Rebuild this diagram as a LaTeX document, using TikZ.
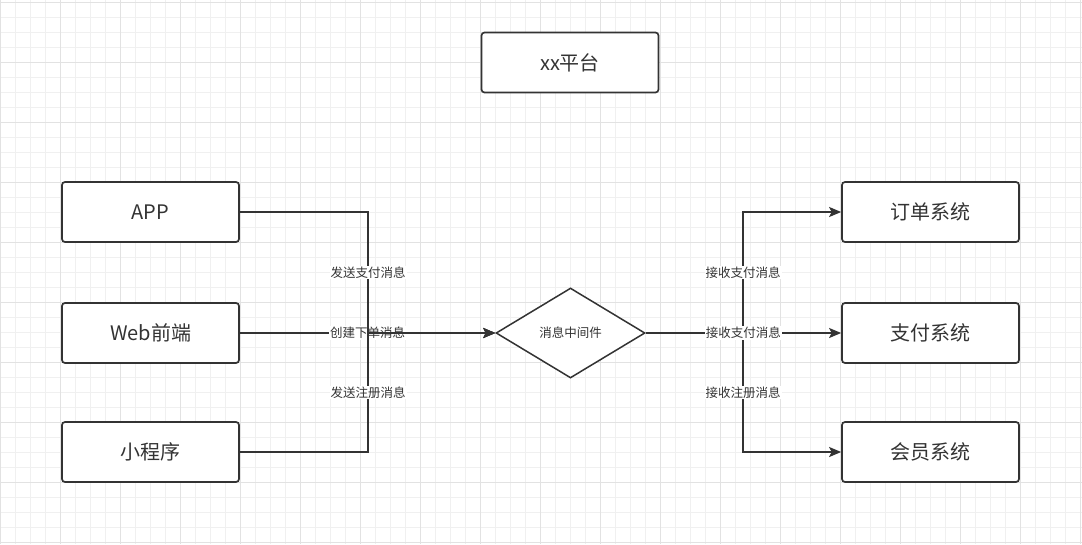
\documentclass[tikz,border=0pt]{standalone}
\usepackage{fontspec}
\setmainfont{Noto Sans CJK SC}
\usepackage{tikz}
\usetikzlibrary{shapes.geometric,arrows.meta}
\definecolor{ink}{HTML}{333333}
\definecolor{gridminor}{HTML}{F0F0F0}
\definecolor{gridmajor}{HTML}{E2E2E2}
\tikzset{
  sysbox/.style={draw=ink, line width=1.7pt, rounded corners=3pt, fill=white,
    minimum width=177pt, minimum height=60pt, inner sep=0pt, text=ink,
    font=\fontsize{20}{24}\selectfont},
  mqnode/.style={diamond, draw=ink, line width=1.5pt, fill=white, inner sep=0pt,
    minimum width=149pt, minimum height=90pt, text=ink,
    font=\fontsize{12.5}{14}\selectfont},
  edge/.style={draw=ink, line width=1.5pt, -{Stealth[length=12pt,width=10pt,inset=2.5pt]}},
  lbl/.style={fill=white, text=ink, inner sep=1pt, font=\fontsize{12.5}{14}\selectfont},
}
\begin{document}
\begin{tikzpicture}[x=1pt,y=-1pt]
  \useasboundingbox (0,0) rectangle (1082,544);
  \fill[white] (0,0) rectangle (1082,544);
  % grid
  \foreach \x in {0,15,...,1080}{\draw[gridminor, line width=0.8pt] (\x,0) -- (\x,544);}
  \foreach \y in {2,17,...,542}{\draw[gridminor, line width=0.8pt] (0,\y) -- (1082,\y);}
  \foreach \x in {0,60,...,1080}{\draw[gridmajor, line width=0.8pt] (\x,0) -- (\x,544);}
  \foreach \y in {2,62,...,542}{\draw[gridmajor, line width=0.8pt] (0,\y) -- (1082,\y);}

  \node[sysbox] (platform) at (570,62.5) {xx平台};

  \node[sysbox] (app) at (150.5,212) {APP};
  \node[sysbox] (web) at (150.5,333) {Web前端};
  \node[sysbox] (mini) at (150.5,452) {小程序};

  \node[mqnode] (mq) at (570.5,333) {消息中间件};

  \node[sysbox] (order) at (930.5,212) {订单系统};
  \node[sysbox] (pay) at (930.5,333) {支付系统};
  \node[sysbox] (member) at (930.5,452) {会员系统};

  \coordinate (lj) at (368,333);
  \coordinate (rj) at (743,333);

  % senders
  \draw[edge] (web.east) -- node[lbl] {创建下单消息} (mq.west);
  \draw[edge] (app.east) -| node[lbl,pos=0.75] {发送支付消息} (lj) -- (mq.west);
  \draw[edge] (mini.east) -| node[lbl,pos=0.75] {发送注册消息} (lj) -- (mq.west);

  % receivers
  \draw[edge] (mq.east) -- (rj) |- node[lbl,pos=0.25] {接收支付消息} (order.west);
  \draw[edge] (mq.east) -- (rj) |- node[lbl,pos=0.25] {接收注册消息} (member.west);
  \draw[edge] (mq.east) -- node[lbl] {接收支付消息} (pay.west);
\end{tikzpicture}
\end{document}
